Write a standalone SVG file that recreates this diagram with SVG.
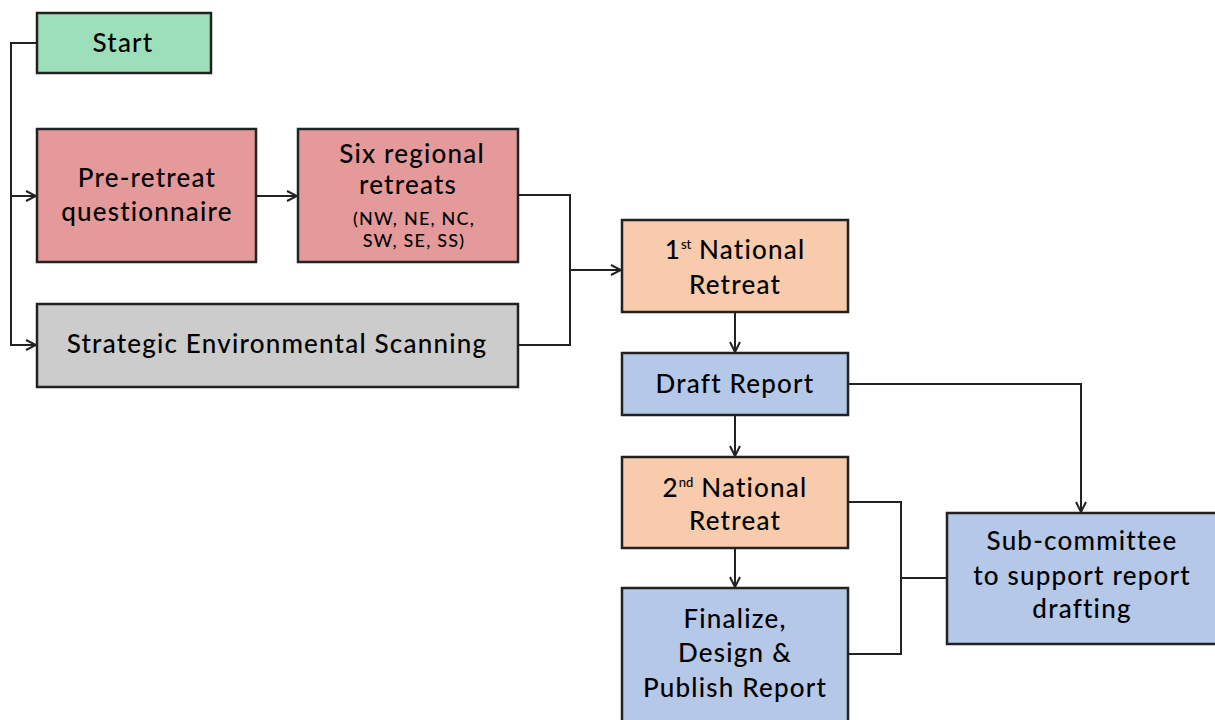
<svg xmlns="http://www.w3.org/2000/svg" width="1215" height="720" viewBox="0 0 1215 720">
<style>
.box{stroke:#222;stroke-width:2.5}
.t{font-family:Lato,"Noto Sans",sans-serif;font-size:26px;font-weight:500;fill:#000;text-anchor:middle;letter-spacing:1.2px}
.s{font-size:18px;letter-spacing:1.2px}
.sup{font-size:13px;letter-spacing:0}
.c{fill:none;stroke:#222;stroke-width:2}
</style>
<defs>
<marker id="a" viewBox="0 0 12 12" refX="11" refY="6" markerWidth="12" markerHeight="12" markerUnits="userSpaceOnUse" orient="auto">
<path d="M1,1 L11,6 L1,11" fill="none" stroke="#222" stroke-width="2"/>
</marker>
</defs>
<rect width="1215" height="720" fill="#fff"/>
<g id="connectors">
<path class="c" d="M37,43 H11 V345 H36" marker-end="url(#a)"/>
<path class="c" d="M11,196 H36" marker-end="url(#a)"/>
<path class="c" d="M256,196 H297" marker-end="url(#a)"/>
<path class="c" d="M518,195 H570 V345 H518"/>
<path class="c" d="M570,270 H621" marker-end="url(#a)"/>
<path class="c" d="M735,312 V352" marker-end="url(#a)"/>
<path class="c" d="M848,384 H1081 V512" marker-end="url(#a)"/>
<path class="c" d="M735,415 V456" marker-end="url(#a)"/>
<path class="c" d="M735,548 V587" marker-end="url(#a)"/>
<path class="c" d="M848,502 H901 V654 H848"/>
<path class="c" d="M901,578 H947"/>
</g>
<g id="start">
<rect class="box" x="37" y="13" width="174" height="60" fill="#9ddfbb"/>
<text class="t" x="123" y="52">Start</text>
</g>
<g id="pre-retreat">
<rect class="box" x="37" y="129" width="219" height="133" fill="#e49a9a"/>
<text class="t" x="147" y="187">Pre-retreat</text>
<text class="t" x="147" y="221">questionnaire</text>
</g>
<g id="six-regional">
<rect class="box" x="298" y="129" width="220" height="133" fill="#e49a9a"/>
<text class="t" x="412" y="163">Six regional</text>
<text class="t" x="408" y="194">retreats</text>
<text class="t s" x="414" y="225">(NW, NE, NC,</text>
<text class="t s" x="414" y="247">SW, SE, SS)</text>
</g>
<g id="strategic">
<rect class="box" x="37" y="304" width="481" height="83" fill="#cccccc"/>
<text class="t" x="277" y="353">Strategic Environmental Scanning</text>
</g>
<g id="national1">
<rect class="box" x="622" y="220" width="226" height="92" fill="#f7cbab"/>
<text class="t" x="735" y="259">1<tspan class="sup" dy="-10">st</tspan><tspan dy="10"> National</tspan></text>
<text class="t" x="735" y="294">Retreat</text>
</g>
<g id="draft">
<rect class="box" x="622" y="353" width="226" height="62" fill="#b5c8e8"/>
<text class="t" x="735" y="393">Draft Report</text>
</g>
<g id="national2">
<rect class="box" x="622" y="457" width="226" height="91" fill="#f7cbab"/>
<text class="t" x="735" y="497">2<tspan class="sup" dy="-10">nd</tspan><tspan dy="10"> National</tspan></text>
<text class="t" x="735" y="530">Retreat</text>
</g>
<g id="finalize">
<rect class="box" x="622" y="588" width="226" height="140" fill="#b5c8e8"/>
<text class="t" x="735" y="628">Finalize,</text>
<text class="t" x="735" y="662">Design &amp;</text>
<text class="t" x="735" y="697">Publish Report</text>
</g>
<g id="subcommittee">
<rect class="box" x="947" y="513" width="280" height="131" fill="#b5c8e8"/>
<text class="t" x="1082" y="550">Sub-committee</text>
<text class="t" x="1082" y="585">to support report</text>
<text class="t" x="1082" y="618">drafting</text>
</g>
</svg>
